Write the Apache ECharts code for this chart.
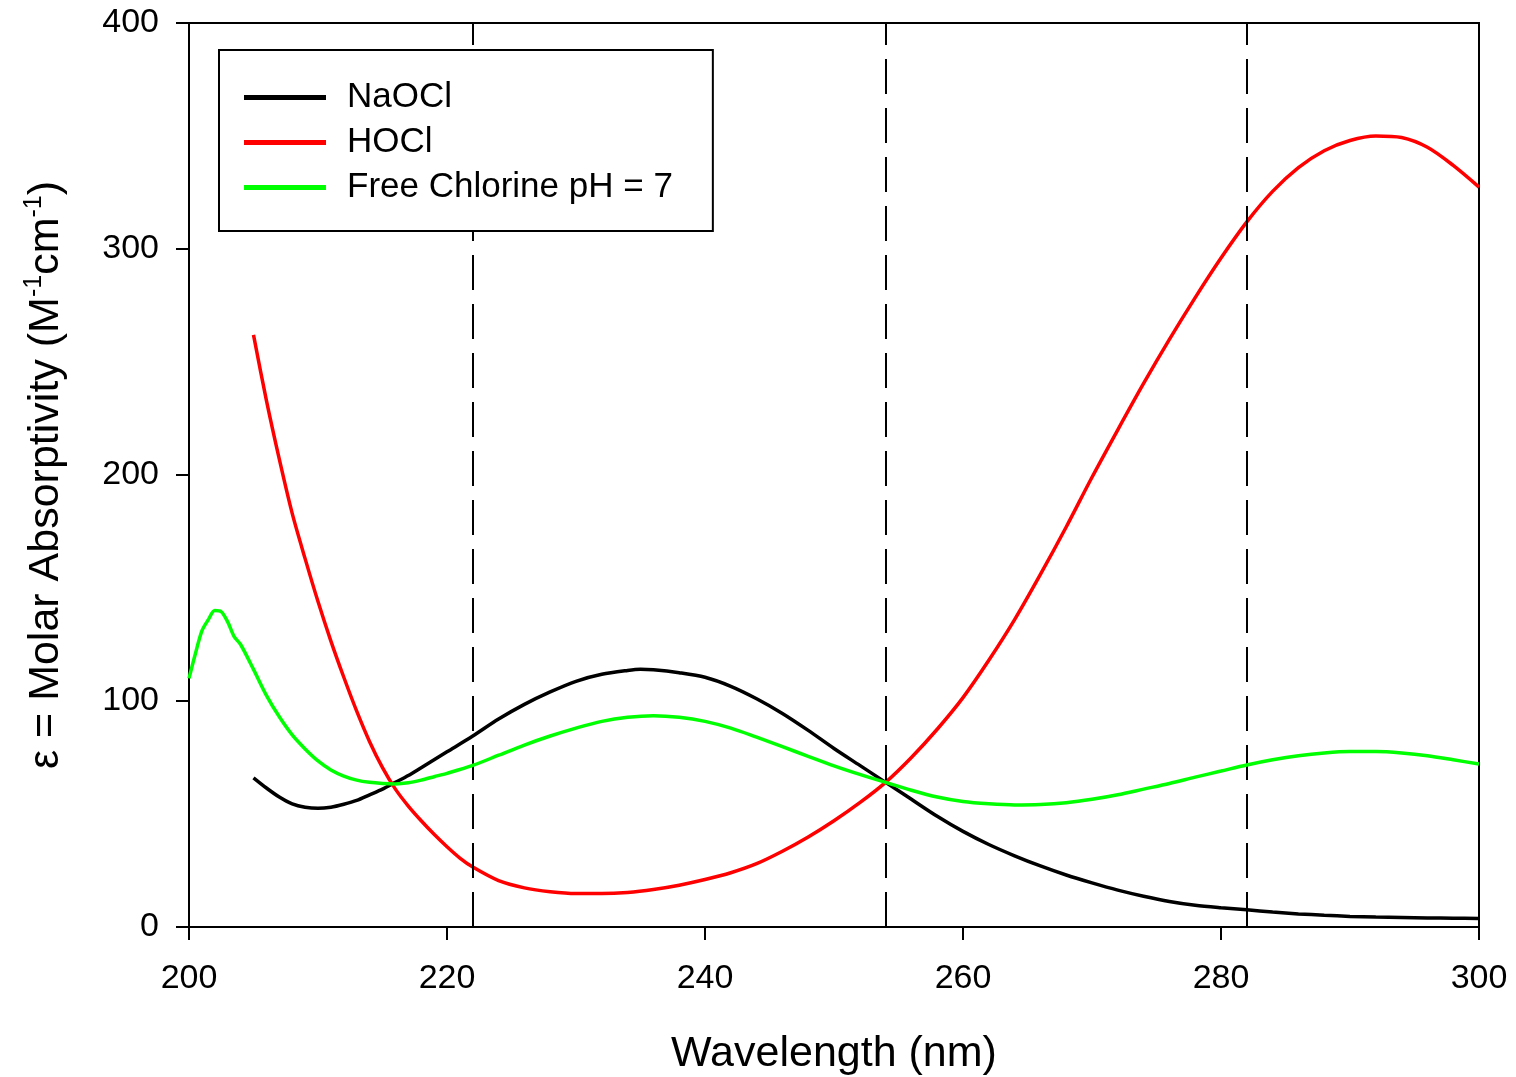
<!DOCTYPE html>
<html>
<head>
<meta charset="utf-8">
<script src="https://cdn.jsdelivr.net/npm/echarts@6/dist/echarts.min.js"></script>
<style>
  html, body { margin: 0; padding: 0; background: #fff; }
  #chart { width: 1516px; height: 1077px; }
</style>
</head>
<body>
<div id="chart"></div>
<script>
// ---- Data ----
const seriesNames = ['NaOCl', 'HOCl', 'Free Chlorine pH = 7'];
const seriesColors = ['#000000', '#ff0000', '#00ff00'];

const wlNaOCl = [205,206,207,208,209,210,211,212,213,214,215,216,217,218,219,220,222,224,226,228,230,232,234,235,236,238,240,242,244,246,248,250,252,254,256,258,260,262,264,266,268,270,272,274,276,278,280,282,284,286,288,290,292,294,296,298,300];
const epsNaOCl = [66,61.5,57.5,54.5,53,52.5,53,54.3,56,58.5,61,64,67,70.5,74,77.5,84.5,92,98.5,104,108.7,111.8,113.5,114,113.8,112.5,110.5,106.5,101,94.5,87,79,71.5,64,56.5,49,42.3,36.5,31.5,27,23,19.5,16.3,13.6,11.3,9.6,8.5,7.6,6.6,5.8,5.2,4.7,4.4,4.2,4.0,3.9,3.8];

const wlHOCl = [205,206,207,208,209,210,211,212,213,214,215,216,217,218,219,220,221,222,224,226,228,230,232,234,236,238,240,242,244,246,248,250,252,254,256,258,260,262,264,266,268,270,272,274,276,278,280,282,284,286,288,290,292,294,296,298,300];
const epsHOCl = [262,233,207,183,163,144,126.5,110.5,95.5,82,70.5,61,53.5,47,41,35.5,30.5,26.5,20.5,17.3,15.6,14.8,14.8,15.3,16.6,18.5,21,24,28,33.5,39.8,47,55,64,75,87.5,101.5,118,136,156,177,199,220,240.5,260,278.5,296,312,325.5,336,343.5,348,350,349.3,345,337,327.4];

const wlFree = [200,200.5,201,201.5,202,202.5,203,203.5,204,205,206,207,208,209,210,211,212,213,214,215,216,217,218,219,220,222,224,226,228,230,232,234,236,238,240,242,244,246,248,250,252,254,256,258,260,262,264,266,268,270,272,274,276,278,280,282,284,286,288,290,292,294,296,298,300];
const epsFree = [110,121,131,136,140,139.5,135,128.5,125,114,102.5,93,85,78.8,73.5,69.5,66.8,65,64,63.5,63.3,63.8,65,66.5,68,71.5,76,80.5,84.5,88,91,92.8,93.5,92.8,91,88,84,79.8,75.5,71.3,67.5,64,60.5,57.5,55.5,54.5,54,54.2,55,56.5,58.5,61,63.5,66.3,69,71.7,74,75.8,77,77.6,77.6,77,75.8,74,72.1];

const isoWavelengths = [222, 254, 282];
const xTicks = [200, 220, 240, 260, 280, 300];
const yTicks = [0, 100, 200, 300, 400];

// ---- Chart ----
const FONT = "'Liberation Sans', Arial, Helvetica, sans-serif";
const pairs = (xs, ys) => xs.map((x, i) => [x, ys[i]]);
const wls = [wlNaOCl, wlHOCl, wlFree];
const epss = [epsNaOCl, epsHOCl, epsFree];

const series = seriesNames.map((name, i) => ({
  name: name,
  type: 'line',
  data: pairs(wls[i], epss[i]),
  showSymbol: false,
  symbol: 'none',
  smooth: 0.3,
  lineStyle: { color: seriesColors[i], width: 3.5 },
  itemStyle: { color: seriesColors[i] },
  z: 3 + i,
  animation: false
}));

series[0].markLine = {
  silent: true,
  symbol: ['none', 'none'],
  label: { show: false },
  lineStyle: { color: '#000', width: 2, type: [35, 14] },
  emphasis: { disabled: true },
  data: isoWavelengths.map(w => ({ xAxis: w })),
  animation: false
};

const chart = echarts.init(document.getElementById('chart'), null, { renderer: 'canvas' });
chart.setOption({
  backgroundColor: '#ffffff',
  animation: false,
  textStyle: { fontFamily: FONT },
  grid: {
    left: 189, right: 37, top: 23, bottom: 150,
    outerBoundsMode: 'none',
    containLabel: false,
    show: true, borderColor: '#000', borderWidth: 2, backgroundColor: 'transparent'
  },
  legend: {
    left: 219, top: 50,
    z: 20,
    orient: 'vertical',
    icon: 'rect',
    itemWidth: 82,
    itemHeight: 5,
    itemGap: 10,
    padding: [30, 40, 26, 25],
    borderColor: '#000',
    borderWidth: 2,
    backgroundColor: '#fff',
    textStyle: { fontFamily: FONT, fontSize: 35, color: '#000', lineHeight: 35, padding: [0, 0, 0, 16] },
    data: seriesNames
  },
  xAxis: {
    type: 'value',
    min: 200, max: 300, interval: 20,
    name: 'Wavelength (nm)',
    nameLocation: 'middle',
    nameGap: 106,
    nameTextStyle: { fontFamily: FONT, fontSize: 43, color: '#000' },
    axisLine: { show: true, onZero: false, lineStyle: { color: '#000', width: 2 } },
    axisTick: { show: true, inside: false, length: 13, lineStyle: { color: '#000', width: 2 } },
    axisLabel: {
      fontFamily: FONT, fontSize: 34, color: '#000', margin: 35,
      formatter: v => (xTicks.indexOf(v) >= 0 ? String(v) : '')
    },
    splitLine: { show: false }
  },
  yAxis: {
    type: 'value',
    min: 0, max: 400, interval: 100,
    name: '{a|ε = Molar Absorptivity (M}{s|-1}{a|cm}{s|-1}{a|)}',
    nameLocation: 'middle',
    nameRotate: 90,
    nameGap: 121,
    nameTextStyle: {
      fontFamily: FONT, color: '#000',
      rich: {
        a: { fontFamily: FONT, fontSize: 43, color: '#000', lineHeight: 47, verticalAlign: 'bottom' },
        s: { fontFamily: FONT, fontSize: 25, color: '#000', lineHeight: 25, verticalAlign: 'top', padding: [1, 0, 0, 0] }
      }
    },
    axisLine: { show: true, lineStyle: { color: '#000', width: 2 } },
    axisTick: { show: true, inside: false, length: 13, lineStyle: { color: '#000', width: 2 } },
    axisLabel: {
      fontFamily: FONT, fontSize: 34, color: '#000', margin: 30,
      formatter: v => (yTicks.indexOf(v) >= 0 ? String(v) : '')
    },
    splitLine: { show: false }
  },
  series: series
});
</script>
</body>
</html>
